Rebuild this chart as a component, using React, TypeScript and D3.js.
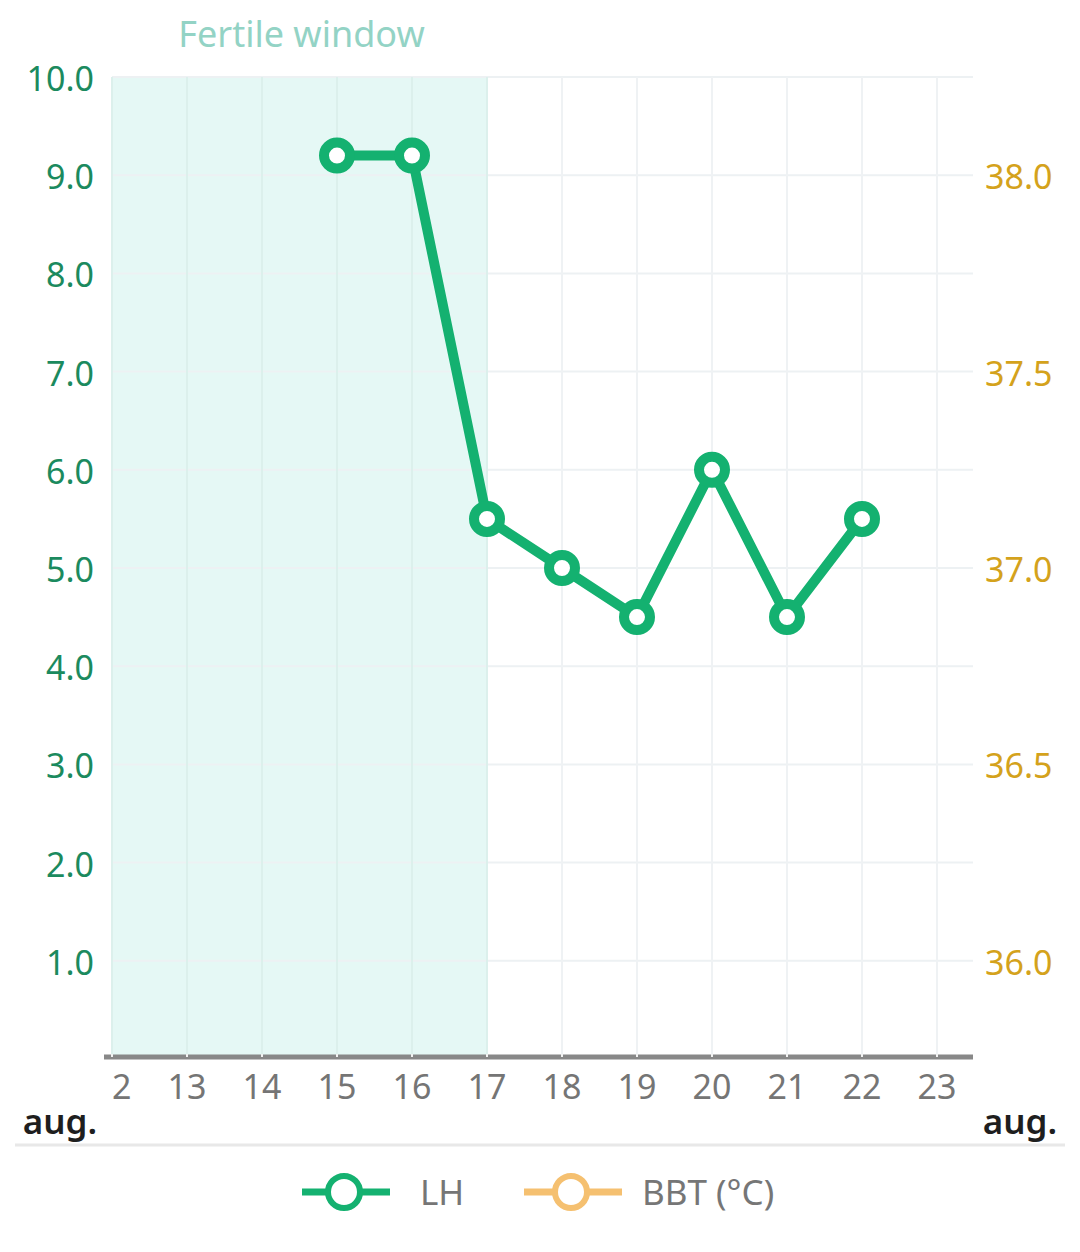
import * as React from 'react';
import * as d3 from 'd3';

const days = [12, 13, 14, 15, 16, 17, 18, 19, 20, 21, 22, 23];
const lhDays = [15, 16, 17, 18, 19, 20, 21, 22];
const lhValues = [9.2, 9.2, 5.5, 5.0, 4.5, 6.0, 4.5, 5.5];
const leftTicks = [1, 2, 3, 4, 5, 6, 7, 8, 9, 10];
const rightTicks = [36.0, 36.5, 37.0, 37.5, 38.0];
const fertileWindow = [12, 17];
const monthLabel = 'aug.';
const legendItems = ['LH', 'BBT (°C)'];

const FONT = '"Noto Sans", "Open Sans", sans-serif';

export default function App() {
    const ref = React.useRef<SVGSVGElement>(null);

    React.useEffect(() => {
        const svg = d3.select(ref.current);
        svg.selectAll('*').remove();

        const width = 1080, height = 1252;
        const left = 112, right = 973, top = 77, bottom = 1059;

        const x = d3.scaleLinear().domain([12, 23.48]).range([left, right]);
        const y = d3.scaleLinear().domain([0, 10]).range([bottom, top]);
        const yRight = d3.scaleLinear().domain([35.75, 38.25]).range([bottom, top]);

        svg.attr('width', width).attr('height', height);

        // fertile window band
        svg.append('rect')
            .attr('x', x(fertileWindow[0]))
            .attr('y', top)
            .attr('width', x(fertileWindow[1]) - x(fertileWindow[0]))
            .attr('height', bottom - top - 4)
            .attr('fill', '#e5f8f5');
        svg.append('text')
            .attr('x', (x(fertileWindow[0]) + x(fertileWindow[1])) / 2 + 2)
            .attr('y', 47)
            .attr('text-anchor', 'middle')
            .style('font-family', FONT)
            .style('font-size', '36px')
            .attr('fill', '#93d3c5')
            .text('Fertile window');

        // grid
        const grid = svg.append('g');
        grid.selectAll('.hgrid')
            .data(leftTicks)
            .enter()
            .append('line')
            .attr('x1', left).attr('x2', right)
            .attr('y1', d => y(d)).attr('y2', d => y(d))
            .attr('stroke', '#edf1f3')
            .attr('stroke-width', 2);
        grid.selectAll('.vgrid')
            .data(days)
            .enter()
            .append('line')
            .attr('x1', d => x(d)).attr('x2', d => x(d))
            .attr('y1', top).attr('y2', bottom)
            .attr('stroke', d => d <= fertileWindow[1] ? '#dcf0ec' : '#eff2f4')
            .attr('stroke-width', 2);

        // x axis
        svg.append('line')
            .attr('x1', 104).attr('x2', right)
            .attr('y1', 1057).attr('y2', 1057)
            .attr('stroke', '#888888')
            .attr('stroke-width', 5);
        svg.selectAll('.tickmark')
            .data(days)
            .enter()
            .append('line')
            .attr('x1', d => x(d)).attr('x2', d => x(d))
            .attr('y1', 1054).attr('y2', 1057)
            .attr('stroke', '#f2f2f2')
            .attr('stroke-width', 2);

        svg.append('clipPath').attr('id', 'xclip')
            .append('rect').attr('x', 107).attr('y', 1060).attr('width', 900).attr('height', 60);
        svg.append('g').attr('clip-path', 'url(#xclip)')
            .selectAll('text')
            .data(days)
            .enter()
            .append('text')
            .attr('x', d => x(d))
            .attr('y', 1099)
            .attr('text-anchor', 'middle')
            .style('font-family', FONT)
            .style('font-size', '34px')
            .attr('fill', '#757575')
            .text(d => d);

        svg.selectAll('.month')
            .data([60, 1020])
            .enter()
            .append('text')
            .attr('x', d => d)
            .attr('y', 1134)
            .attr('text-anchor', 'middle')
            .style('font-family', FONT)
            .style('font-size', '35px')
            .style('font-weight', 600)
            .attr('fill', '#1e1e1e')
            .text(monthLabel);

        // left axis
        svg.selectAll('.lefttick')
            .data(leftTicks)
            .enter()
            .append('text')
            .attr('x', 94)
            .attr('y', d => y(d) + 14)
            .attr('text-anchor', 'end')
            .style('font-family', FONT)
            .style('font-size', '34px')
            .attr('fill', '#1b8a5e')
            .text(d => d3.format('.1f')(d));

        // right axis
        svg.selectAll('.righttick')
            .data(rightTicks)
            .enter()
            .append('text')
            .attr('x', 985)
            .attr('y', d => yRight(d) + 14)
            .attr('text-anchor', 'start')
            .style('font-family', FONT)
            .style('font-size', '34px')
            .attr('fill', '#d4a21c')
            .text(d => d3.format('.1f')(d));

        // LH series
        const points = lhDays.map((d, i) => ({ day: d, value: lhValues[i] }));
        const line = d3.line<any>().x(d => x(d.day)).y(d => y(d.value));
        svg.append('path')
            .datum(points)
            .attr('d', line)
            .attr('fill', 'none')
            .attr('stroke', '#14b170')
            .attr('stroke-width', 10)
            .attr('stroke-linejoin', 'round');
        svg.selectAll('.lh')
            .data(points)
            .enter()
            .append('circle')
            .attr('cx', d => x(d.day))
            .attr('cy', d => y(d.value))
            .attr('r', 13)
            .attr('fill', '#ffffff')
            .attr('stroke', '#14b170')
            .attr('stroke-width', 10);

        // separator
        svg.append('line')
            .attr('x1', 15).attr('x2', 1065)
            .attr('y1', 1145).attr('y2', 1145)
            .attr('stroke', '#e8e8e8')
            .attr('stroke-width', 3);

        // legend
        const legendColors = ['#14b170', '#f5c070'];
        const legendX = [302, 524];
        const legendW = [88, 98];
        const textX = [420, 642];
        const lg = svg.append('g');
        legendItems.forEach((name, i) => {
            const g = lg.append('g');
            g.append('line')
                .attr('x1', legendX[i]).attr('x2', legendX[i] + legendW[i])
                .attr('y1', 1192).attr('y2', 1192)
                .attr('stroke', legendColors[i])
                .attr('stroke-width', 7);
            g.append('circle')
                .attr('cx', legendX[i] + legendW[i] / 2 - 2)
                .attr('cy', 1192)
                .attr('r', 16)
                .attr('fill', '#ffffff')
                .attr('stroke', legendColors[i])
                .attr('stroke-width', 6);
            g.append('text')
                .attr('x', textX[i])
                .attr('y', 1205)
                .style('font-family', FONT)
                .style('font-size', '35px')
                .attr('fill', '#767676')
                .text(name);
        });
    }, []);

    return (
        <div style={{ position: 'absolute', left: 0, top: 0, background: '#fff' }}>
            <svg ref={ref} style={{ display: 'block' }} />
        </div>
    );
}
